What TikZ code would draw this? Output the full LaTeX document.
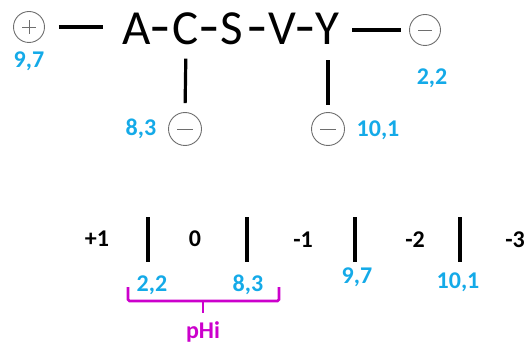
\documentclass[tikz,border=0pt]{standalone}
\usepackage{fontspec}
\setmainfont{Carlito}
\definecolor{lblblue}{RGB}{20,170,232}
\definecolor{phimag}{RGB}{204,0,204}
\definecolor{ringgray}{RGB}{110,110,110}
\newcommand{\seqdash}{\makebox[10pt]{\scalebox{1.3}[1.1]{-}}}
\begin{document}
\begin{tikzpicture}[x=1pt,y=-1pt,
  letter/.style={inner sep=0pt,anchor=base,font=\fontsize{49}{49}\selectfont},
  ring/.style={circle,draw=ringgray,line width=0.9pt,minimum size=31pt,inner sep=0pt},
  bond/.style={line width=3.2pt},
  bar/.style={line width=3.2pt},
  val/.style={text=lblblue,font=\fontsize{24}{24}\selectfont\bfseries,inner sep=0pt},
  chg/.style={font=\fontsize{24}{24}\selectfont\bfseries,inner sep=0pt},
  brk/.style={draw=phimag,line width=2.6pt,rounded corners=1.5pt}]
\useasboundingbox (0,0) rectangle (526,347);
\begin{scope}
\clip (0,0) rectangle (526,347);
% sequence
\node[letter] (A) at (137,45) {A};
\node[letter] (h1) at (160,45) {\seqdash};
\node[letter] (C) at (186,45) {C};
\node[letter] (h2) at (209,45) {\seqdash};
\node[letter] (S) at (232,45) {S};
\node[letter] (h3) at (257,45) {\seqdash};
\node[letter] (V) at (282,45) {V};
\node[letter] (h4) at (305,45) {\seqdash};
\node[letter] (Y) at (327,45) {Y};
% charges
\node[ring] (pl) at (29,27) {};
\draw[ringgray,line width=0.9pt] ([xshift=-7pt]pl.center) -- ([xshift=7pt]pl.center)
  ([yshift=-7pt]pl.center) -- ([yshift=7pt]pl.center);
\node[ring] (mr) at (425,30) {};
\draw[ringgray,line width=0.9pt] ([xshift=-7pt]mr.center) -- ([xshift=7pt]mr.center);
\node[ring,minimum size=33pt] (mc) at (185,129) {};
\draw[ringgray,line width=0.9pt] ([xshift=-8pt]mc.center) -- ([xshift=8pt]mc.center);
\node[ring,minimum size=33pt] (my) at (328,129) {};
\draw[ringgray,line width=0.9pt] ([xshift=-8pt]my.center) -- ([xshift=8pt]my.center);
% bonds
\draw[bond] ([xshift=14pt]pl.east) -- ([xshift=-20pt]pl.east -| A.west);
\draw[bond] ([xshift=13pt]Y.east |- mr.west) -- ([xshift=-8pt]mr.west);
\draw[bond,shorten <=13pt,shorten >=9pt] (C.south) -- (mc.north);
\draw[bond,shorten <=15pt,shorten >=7pt] (Y.south -| my.north) -- (my.north);
% pKa values
\node[val] (v97) at (29,61) {9,7};
\node[val] (v22) at (432,78) {2,2};
\node[val] (v83) at (141,129) {8,3};
\node[val] (v101) at (378,130) {10,1};
% scale
\node[chg] (c1) at (97,239) {+1};
\node[chg] (c2) at (195,239) {0};
\node[chg] (c3) at (303,240) {-1};
\node[chg] (c4) at (415,240) {-2};
\node[chg] (c5) at (515,240) {-3};
\coordinate (b1t) at (148,217); \coordinate (b1b) at (148,262);
\coordinate (b2t) at (247,217); \coordinate (b2b) at (247,262);
\coordinate (b3t) at (355,217); \coordinate (b3b) at (355,262);
\coordinate (b4t) at (460,217); \coordinate (b4b) at (460,262);
\draw[bar] (b1t) -- (b1b);
\draw[bar] (b2t) -- (b2b);
\draw[bar] (b3t) -- (b3b);
\draw[bar] (b4t) -- (b4b);
\node[val] (s22) at (152,285) {2,2};
\node[val] (s83) at (248,285) {8,3};
\node[val] (s97) at (357,277) {9,7};
\node[val] (s101) at (458,282) {10,1};
% pHi bracket
\coordinate (bl) at (128,287);
\coordinate (br) at (279,287);
\coordinate (bm) at (203,301);
\draw[brk] (bl) -- (bl |- bm) -- (br |- bm) -- (br);
\draw[brk] (bm) -- ++(0,12);
\node[font=\fontsize{24}{24}\selectfont\bfseries,text=phimag,inner sep=0pt] (phi) at (203,332) {pHi};
\end{scope}
\end{tikzpicture}
\end{document}
